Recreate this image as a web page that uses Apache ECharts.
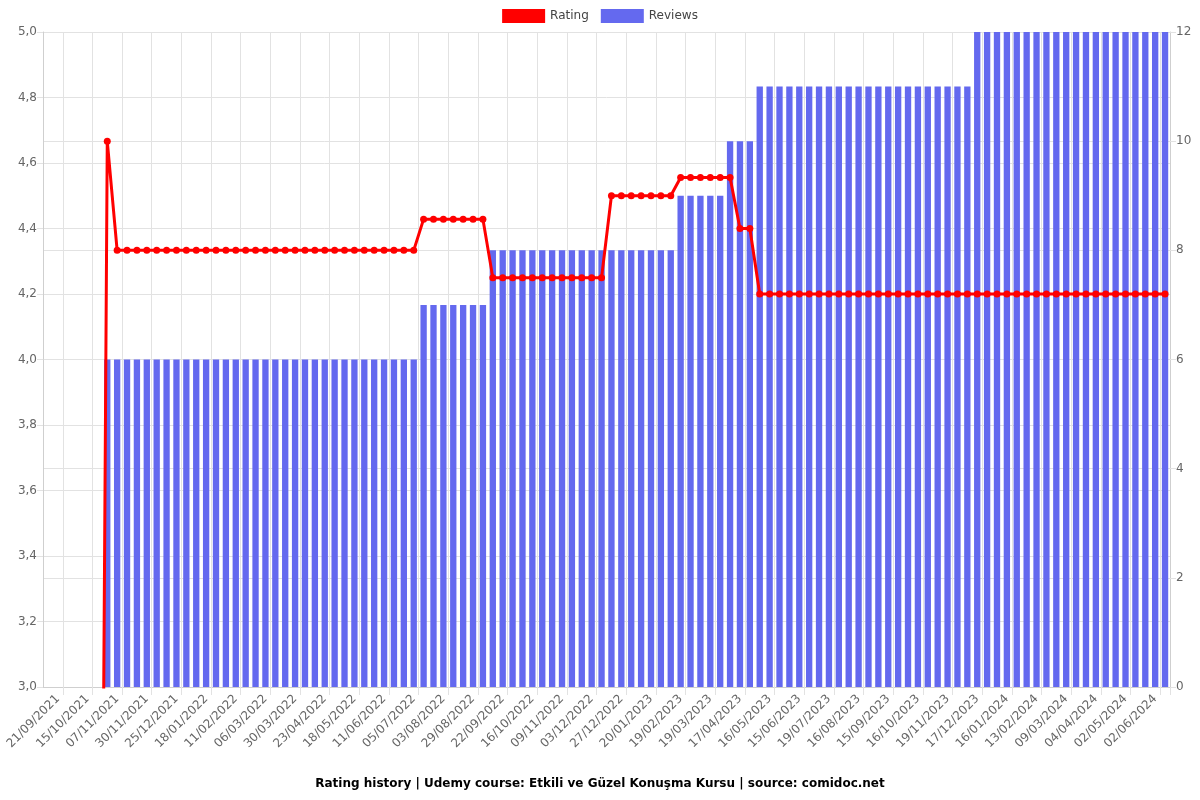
<!DOCTYPE html>
<html>
<head>
<meta charset="utf-8">
<script src="https://cdn.jsdelivr.net/npm/echarts@6/dist/echarts.min.js"></script>
<style>
html,body{margin:0;padding:0;background:#fff;}
#chart{width:1200px;height:800px;}
</style>
</head>
<body>
<div id="chart"></div>
<script>
const tickLabels = ['21/09/2021','15/10/2021','07/11/2021','30/11/2021','25/12/2021','18/01/2022','11/02/2022','06/03/2022','30/03/2022','23/04/2022','18/05/2022','11/06/2022','05/07/2022','03/08/2022','29/08/2022','22/09/2022','16/10/2022','09/11/2022','03/12/2022','27/12/2022','20/01/2023','19/02/2023','19/03/2023','17/04/2023','16/05/2023','15/06/2023','19/07/2023','16/08/2023','15/09/2023','16/10/2023','19/11/2023','17/12/2023','16/01/2024','13/02/2024','09/03/2024','04/04/2024','02/05/2024','02/06/2024'];

const ratings = [
  null,null,null,null,null,0,
  4.6667,
  4.3333,4.3333,4.3333,4.3333,4.3333,4.3333,4.3333,4.3333,4.3333,4.3333,
  4.3333,4.3333,4.3333,4.3333,4.3333,4.3333,4.3333,4.3333,4.3333,4.3333,
  4.3333,4.3333,4.3333,4.3333,4.3333,4.3333,4.3333,4.3333,4.3333,4.3333,
  4.3333,
  4.4286,4.4286,4.4286,4.4286,4.4286,4.4286,4.4286,
  4.25,4.25,4.25,4.25,4.25,4.25,4.25,4.25,4.25,4.25,4.25,4.25,
  4.5,4.5,4.5,4.5,4.5,4.5,4.5,
  4.5556,4.5556,4.5556,4.5556,4.5556,4.5556,
  4.4,4.4,
  4.2,4.2,4.2,4.2,4.2,4.2,4.2,4.2,4.2,4.2,
  4.2,4.2,4.2,4.2,4.2,4.2,4.2,4.2,4.2,4.2,
  4.2,4.2,4.2,4.2,4.2,4.2,4.2,4.2,4.2,4.2,
  4.2,4.2,4.2,4.2,4.2,4.2,4.2,4.2,4.2,4.2,
  4.2,4.2
];

const reviews = [
  null,null,null,null,null,null,
  6,6,6,6,6,6,6,6,6,6,6,6,6,6,6,6,
  6,6,6,6,6,6,6,6,6,6,6,6,6,6,6,6,
  7,7,7,7,7,7,7,
  8,8,8,8,8,8,8,8,8,8,8,8,8,8,8,8,8,8,8,
  9,9,9,9,9,
  10,10,10,
  11,11,11,11,11,11,11,11,11,11,11,
  11,11,11,11,11,11,11,11,11,11,11,
  12,12,12,12,12,12,12,12,12,12,
  12,12,12,12,12,12,12,12,12,12
];

const categories = ratings.map((_, i) => String(i));

const FONT = 'DejaVu Sans';
const chart = echarts.init(document.getElementById('chart'), null, {renderer: 'canvas'});
const gridColor = '#e2e2e2';
const labelColor = '#666';

chart.setOption({
  animation: false,
  textStyle: {fontFamily: FONT},
  title: {
    text: 'Rating history | Udemy course: Etkili ve Güzel Konuşma Kursu | source: comidoc.net',
    left: 'center',
    bottom: 5,
    textStyle: {fontFamily: FONT, fontSize: 12, fontWeight: 'bold', color: '#000'}
  },
  legend: {
    top: 4,
    left: 'center',
    itemWidth: 43,
    itemHeight: 14,
    itemGap: 12,
    textStyle: {fontFamily: FONT, fontSize: 12, color: '#444'},
    data: [
      {name: 'Rating', icon: 'rect', itemStyle: {color: '#ff0000'}},
      {name: 'Reviews', icon: 'rect', itemStyle: {color: '#6469ef'}}
    ]
  },
  grid: {left: 43, right: 30, top: 32, bottom: 113, containLabel: false},
  xAxis: {
    type: 'category',
    data: categories,
    boundaryGap: true,
    axisLine: {show: true, lineStyle: {color: '#cfcfcf'}},
    axisTick: {show: true, length: 8, interval: (i) => i % 3 === 2, lineStyle: {color: gridColor}},
    splitLine: {show: true, interval: (i) => i % 3 === 2, lineStyle: {color: gridColor}},
    axisLabel: {
      interval: (i) => i % 3 === 1,
      rotate: 45,
      margin: 10,
      fontFamily: FONT,
      fontSize: 12,
      color: labelColor,
      formatter: (v, i) => (i % 3 === 1 ? tickLabels[(i - 1) / 3] : '')
    }
  },
  yAxis: [
    {
      type: 'value', min: 3, max: 5, interval: 0.2, position: 'left',
      axisLine: {show: true, lineStyle: {color: '#cfcfcf'}},
      axisTick: {show: true, length: 6, lineStyle: {color: gridColor}},
      splitLine: {show: true, lineStyle: {color: gridColor}},
      axisLabel: {fontFamily: FONT, fontSize: 12, color: labelColor, margin: 6,
        formatter: (v) => v.toFixed(1).replace('.', ',')}
    },
    {
      type: 'value', min: 0, max: 12, interval: 2, position: 'right',
      axisLine: {show: true, lineStyle: {color: '#cfcfcf'}},
      axisTick: {show: true, length: 6, lineStyle: {color: gridColor}},
      splitLine: {show: true, lineStyle: {color: gridColor}},
      axisLabel: {fontFamily: FONT, fontSize: 12, color: labelColor, margin: 6}
    }
  ],
  series: [
    {
      name: 'Rating', type: 'line', yAxisIndex: 0, data: ratings, z: 3,
      symbol: 'circle', symbolSize: 7, showAllSymbol: true, connectNulls: false,
      lineStyle: {color: '#ff0000', width: 3},
      itemStyle: {color: '#ff0000'}
    },
    {
      name: 'Reviews', type: 'bar', yAxisIndex: 1, data: reviews, z: 2,
      barWidth: '64%',
      itemStyle: {color: '#6469ef'}
    }
  ]
});
</script>
</body>
</html>
